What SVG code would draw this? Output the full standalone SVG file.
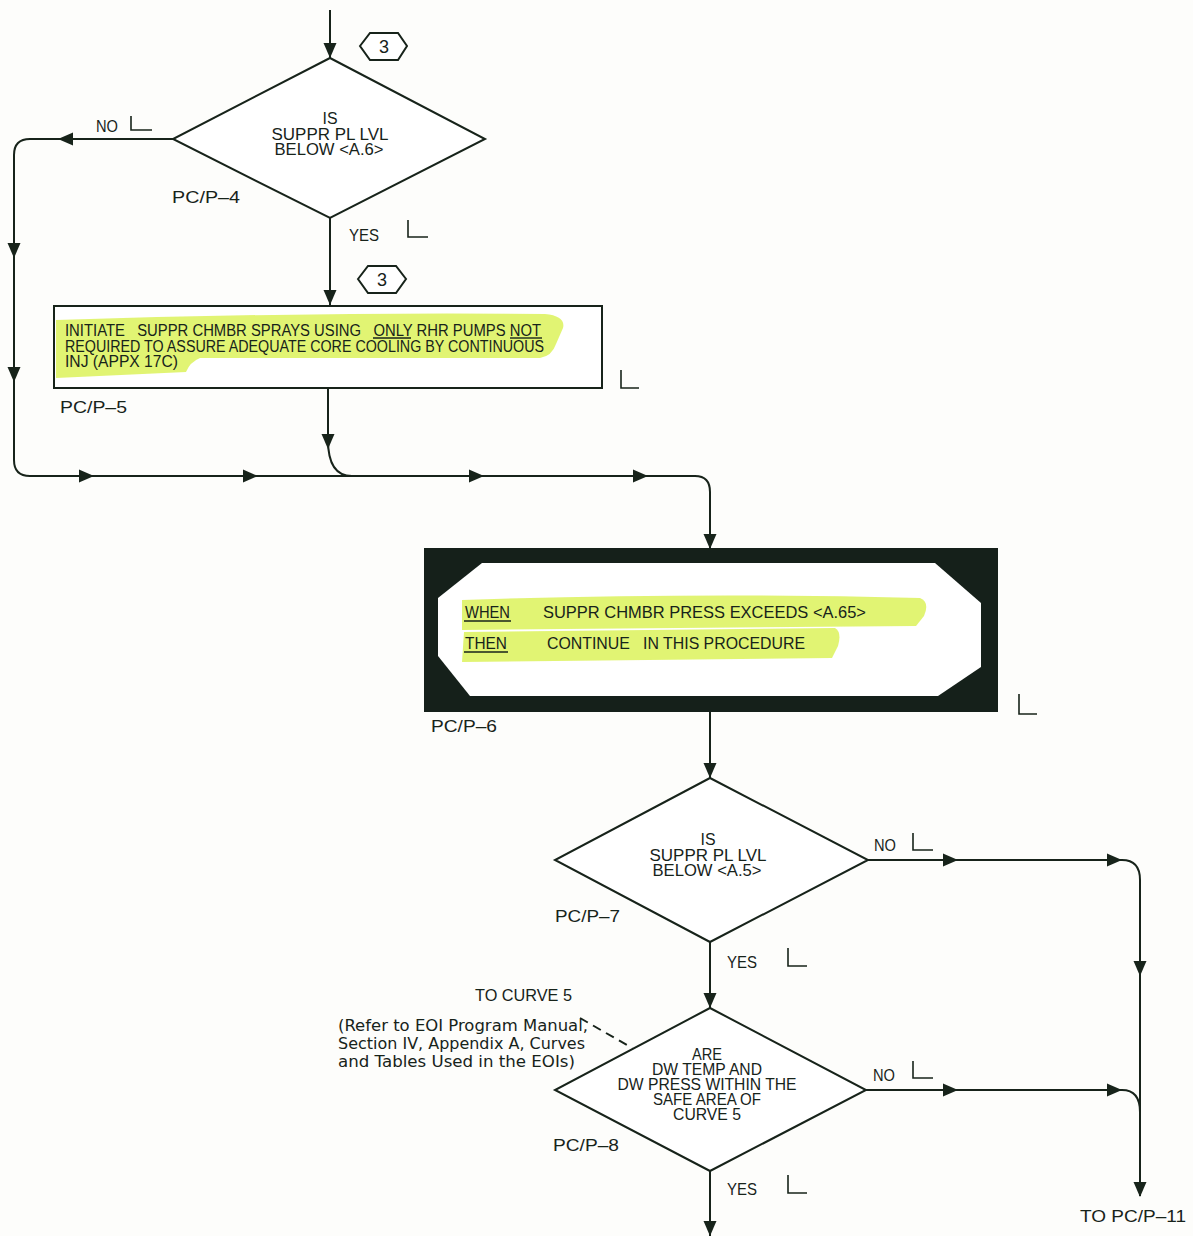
<svg xmlns="http://www.w3.org/2000/svg" width="1193" height="1236" viewBox="0 0 1193 1236">
  <style>
    .ln { fill: none; stroke: #17231a; stroke-width: 2; }
    .shape { fill: #ffffff; stroke: #17231a; stroke-width: 2; }
    .txt { font-family: "Liberation Sans", "DejaVu Sans", sans-serif; fill: #17231a; }
    .pre { white-space: pre; }
    .lbl { font-size: 17px; }
    .dia { font-size: 16px; text-anchor: middle; }
    .box { font-size: 16px; }
    .note { font-family: "DejaVu Sans", "Liberation Sans", sans-serif; font-size: 15.5px; fill: #17231a; }
    .hl { fill: #dcf25a; opacity: 0.85; }
    .tick { fill: none; stroke: #17231a; stroke-width: 1.6; }
  </style>
  <defs>
    <!-- filled arrowhead, tip at origin, pointing along +x -->
    <path id="ah" d="M0,0 L-15,-6.5 L-15,6.5 Z" fill="#17231a"/>
  </defs>

  <rect width="1193" height="1236" fill="#fdfdfb"/>

  <!-- connectors -->
  <g id="connectors">
    <line class="ln" x1="330" y1="10" x2="330" y2="58"/>
    <use href="#ah" transform="translate(330,58) rotate(90)"/>

    <!-- PC/P-4 NO branch around the left side -->
    <path class="ln" d="M173,139 H30 Q14,139 14,155 V460 Q14,476 30,476 H695 Q710,476 710,492 V549"/>
    <use href="#ah" transform="translate(58,139) rotate(180)"/>
    <use href="#ah" transform="translate(14,258) rotate(90)"/>
    <use href="#ah" transform="translate(14,382) rotate(90)"/>
    <use href="#ah" transform="translate(94,476)"/>
    <use href="#ah" transform="translate(258,476)"/>
    <use href="#ah" transform="translate(484,476)"/>
    <use href="#ah" transform="translate(648,476)"/>
    <use href="#ah" transform="translate(710,549) rotate(90)"/>

    <!-- PC/P-4 YES to PC/P-5 -->
    <line class="ln" x1="330" y1="218" x2="330" y2="306"/>
    <use href="#ah" transform="translate(330,305) rotate(90)"/>

    <!-- PC/P-5 out, joining the main line -->
    <path class="ln" d="M328,388 V440 Q328,476 352,476"/>
    <use href="#ah" transform="translate(328,449) rotate(90)"/>

    <!-- PC/P-6 to PC/P-7 -->
    <line class="ln" x1="710" y1="712" x2="710" y2="778"/>
    <use href="#ah" transform="translate(710,778) rotate(90)"/>

    <!-- PC/P-7 NO branch -->
    <path class="ln" d="M868,860 H1122 Q1140,860 1140,880 V1196"/>
    <use href="#ah" transform="translate(958,860)"/>
    <use href="#ah" transform="translate(1122,860)"/>
    <use href="#ah" transform="translate(1140,976) rotate(90)"/>
    <use href="#ah" transform="translate(1140,1197) rotate(90)"/>

    <!-- PC/P-7 YES to PC/P-8 -->
    <line class="ln" x1="710" y1="942" x2="710" y2="1008"/>
    <use href="#ah" transform="translate(710,1008) rotate(90)"/>

    <!-- PC/P-8 NO branch -->
    <path class="ln" d="M866,1090 H1122 Q1140,1090 1140,1112"/>
    <use href="#ah" transform="translate(958,1090)"/>
    <use href="#ah" transform="translate(1122,1090)"/>

    <!-- PC/P-8 YES -->
    <line class="ln" x1="710" y1="1171" x2="710" y2="1236"/>
    <use href="#ah" transform="translate(710,1236) rotate(90)"/>

    <!-- curve reference leader -->
    <line class="ln" x1="580" y1="1018" x2="632" y2="1048" stroke-dasharray="9,6" stroke-width="1.6"/>
  </g>

  <!-- connector labels and sign-off ticks -->
  <g id="branch-labels" class="txt lbl">
    <text x="96" y="132" textLength="22" lengthAdjust="spacingAndGlyphs">NO</text>
    <path class="tick" d="M131,116 V130 H152"/>
    <text x="349" y="241" textLength="30" lengthAdjust="spacingAndGlyphs">YES</text>
    <path class="tick" d="M408,220 V237 H428"/>
    <text x="874" y="851" textLength="22" lengthAdjust="spacingAndGlyphs">NO</text>
    <path class="tick" d="M913,833 V850 H933"/>
    <text x="727" y="968" textLength="30" lengthAdjust="spacingAndGlyphs">YES</text>
    <path class="tick" d="M788,948 V966 H807"/>
    <text x="873" y="1081" textLength="22" lengthAdjust="spacingAndGlyphs">NO</text>
    <path class="tick" d="M913,1061 V1078 H933"/>
    <text x="727" y="1195" textLength="30" lengthAdjust="spacingAndGlyphs">YES</text>
    <path class="tick" d="M788,1175 V1193 H807"/>
    <text x="1080" y="1222" textLength="106" lengthAdjust="spacingAndGlyphs">TO PC/P–11</text>
  </g>

  <!-- entry marker 3 -->
  <g id="marker-3a">
    <path class="shape" d="M360,46 L370,33 L398,33 L407,46 L398,60 L370,60 Z" stroke-width="1.6"/>
    <text class="txt" x="384" y="53" font-size="18" text-anchor="middle">3</text>
  </g>

  <!-- PC/P-4 decision -->
  <g id="pcp-4">
    <path class="shape" d="M330,58 L485,139 L330,218 L173,139 Z"/>
    <text class="txt dia" x="330" y="124" textLength="15" lengthAdjust="spacingAndGlyphs">IS</text>
    <text class="txt dia" x="330" y="140" textLength="117" lengthAdjust="spacingAndGlyphs">SUPPR PL LVL</text>
    <text class="txt dia" x="329" y="155" textLength="109" lengthAdjust="spacingAndGlyphs">BELOW &lt;A.6&gt;</text>
    <text class="txt lbl" x="172" y="203" textLength="68" lengthAdjust="spacingAndGlyphs">PC/P–4</text>
  </g>

  <!-- entry marker 3 -->
  <g id="marker-3b">
    <path class="shape" d="M358,279 L368,266 L396,266 L406,279 L396,293 L368,293 Z" stroke-width="1.6"/>
    <text class="txt" x="382" y="286" font-size="18" text-anchor="middle">3</text>
  </g>

  <!-- PC/P-5 action -->
  <g id="pcp-5">
    <rect class="shape" x="54" y="306" width="548" height="82"/>
    <path class="hl" d="M56,320 Q300,312 545,314 Q566,316 563,328 L556,344 Q552,356 540,358 L200,358 Q190,362 186,372 L56,378 Z"/>
    <g class="txt box">
      <text class="pre" x="65" y="336" textLength="476" lengthAdjust="spacingAndGlyphs">INITIATE   SUPPR CHMBR SPRAYS USING   ONLY RHR PUMPS NOT</text>
      <text x="65" y="352" textLength="479" lengthAdjust="spacingAndGlyphs">REQUIRED TO ASSURE ADEQUATE CORE COOLING BY CONTINUOUS</text>
      <text x="65" y="367" textLength="113" lengthAdjust="spacingAndGlyphs">INJ (APPX 17C)</text>
    </g>
    <line x1="373" y1="338" x2="411" y2="338" stroke="#17231a" stroke-width="1.4"/>
    <line x1="510" y1="338" x2="542" y2="338" stroke="#17231a" stroke-width="1.4"/>
    <path class="tick" d="M621,370 V388 H639"/>
    <text class="txt lbl" x="60" y="413" textLength="67" lengthAdjust="spacingAndGlyphs">PC/P–5</text>
  </g>

  <!-- PC/P-6 wait-until block -->
  <g id="pcp-6">
    <rect x="424" y="548" width="574" height="164" fill="#15201a"/>
    <path d="M482,563 L935,563 L981,603 L981,667 L938,696 L470,696 L438,656 L438,598 Z" fill="#ffffff"/>
    <path class="hl" d="M462,600 Q700,592 920,598 Q930,602 924,616 L916,626 L462,630 Z"/>
    <path class="hl" d="M464,632 L835,628 Q842,632 838,646 L832,658 L462,662 Z"/>
    <g class="txt" font-size="17">
      <text x="465" y="618" textLength="45" lengthAdjust="spacingAndGlyphs">WHEN</text>
      <text x="543" y="618" textLength="323" lengthAdjust="spacingAndGlyphs">SUPPR CHMBR PRESS EXCEEDS &lt;A.65&gt;</text>
      <text x="465" y="649" textLength="42" lengthAdjust="spacingAndGlyphs">THEN</text>
      <text class="pre" x="547" y="649" textLength="258" lengthAdjust="spacingAndGlyphs">CONTINUE   IN THIS PROCEDURE</text>
    </g>
    <line x1="464" y1="621" x2="511" y2="621" stroke="#17231a" stroke-width="1.4"/>
    <line x1="464" y1="652" x2="508" y2="652" stroke="#17231a" stroke-width="1.4"/>
    <path class="tick" d="M1019,694 V714 H1037"/>
    <text class="txt lbl" x="431" y="732" textLength="66" lengthAdjust="spacingAndGlyphs">PC/P–6</text>
  </g>

  <!-- PC/P-7 decision -->
  <g id="pcp-7">
    <path class="shape" d="M710,778 L868,860 L710,942 L555,860 Z"/>
    <text class="txt dia" x="708" y="845" textLength="15" lengthAdjust="spacingAndGlyphs">IS</text>
    <text class="txt dia" x="708" y="861" textLength="117" lengthAdjust="spacingAndGlyphs">SUPPR PL LVL</text>
    <text class="txt dia" x="707" y="876" textLength="109" lengthAdjust="spacingAndGlyphs">BELOW &lt;A.5&gt;</text>
    <text class="txt lbl" x="555" y="922" textLength="65" lengthAdjust="spacingAndGlyphs">PC/P–7</text>
  </g>

  <!-- PC/P-8 decision -->
  <g id="pcp-8">
    <path class="shape" d="M710,1008 L866,1090 L710,1171 L555,1090 Z"/>
    <g class="txt dia">
      <text x="707" y="1060" textLength="30" lengthAdjust="spacingAndGlyphs">ARE</text>
      <text x="707" y="1075" textLength="110" lengthAdjust="spacingAndGlyphs">DW TEMP AND</text>
      <text x="707" y="1090" textLength="179" lengthAdjust="spacingAndGlyphs">DW PRESS WITHIN THE</text>
      <text x="707" y="1105" textLength="108" lengthAdjust="spacingAndGlyphs">SAFE AREA OF</text>
      <text x="707" y="1120" textLength="68" lengthAdjust="spacingAndGlyphs">CURVE 5</text>
    </g>
    <text class="txt lbl" x="553" y="1151" textLength="66" lengthAdjust="spacingAndGlyphs">PC/P–8</text>
  </g>

  <!-- curve reference note -->
  <g id="curve-note">
    <text class="txt lbl" x="475" y="1001" textLength="97" lengthAdjust="spacingAndGlyphs">TO CURVE 5</text>
    <text class="note" x="338" y="1031" textLength="250" lengthAdjust="spacingAndGlyphs">(Refer to EOI Program Manual,</text>
    <text class="note" x="338" y="1049" textLength="247" lengthAdjust="spacingAndGlyphs">Section IV, Appendix A, Curves</text>
    <text class="note" x="338" y="1067" textLength="237" lengthAdjust="spacingAndGlyphs">and Tables Used in the EOIs)</text>
  </g>
</svg>
